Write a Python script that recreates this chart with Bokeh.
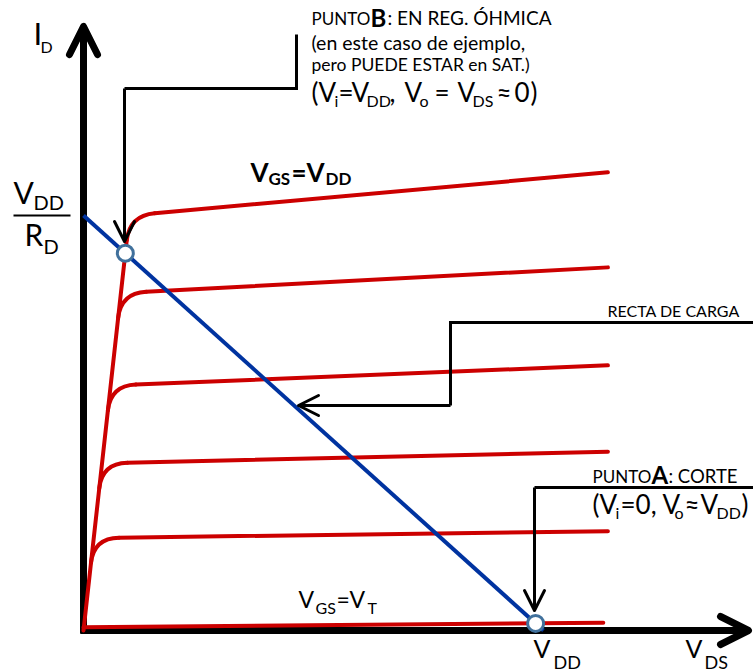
from bokeh.plotting import figure
from bokeh.models import Range1d, Label, Arrow, OpenHead
from bokeh.embed import file_html
from bokeh.resources import INLINE

# ---- normalised MOSFET output characteristics (V_DS in units of V_DD, I_D in units of V_DD/R_D)
g_on = 10.0                                   # slope of the ohmic (triode) region
i_knee = [1.00, 0.813, 0.590, 0.403, 0.223]   # current where each curve leaves the ohmic line
i_end = [1.104, 0.875, 0.639, 0.431, 0.239]   # current at the right end of each curve
v_end = 1.14                                  # V_DS where the curves stop
vt_v = [0.0, 1.13]                            # V_GS = V_T curve (cut-off)
vt_i = [0.008, 0.0185]
vdd = 1.0                                     # load line intercepts
id_max = 1.0                                  # V_DD / R_D

RED = "#CC0000"
BLUE = "#0033A0"
FONT = "Lato"

W, H = 753, 672
X0, XS = 83.0, 460.0   # pixel of V_DS = 0, pixels per V_DD
Y0, YS = 630.0, 415.0  # pixel of I_D = 0, pixels per V_DD/R_D


def X(px):
    return (px - X0) / XS


def Y(py):
    return (Y0 - py) / YS


p = figure(width=W, height=H, x_range=Range1d(X(0), X(W)), y_range=Range1d(Y(H), Y(0)),
           output_backend="svg", toolbar_location=None, min_border=0,
           outline_line_color=None, x_axis_location=None, y_axis_location=None,
           background_fill_color="white", border_fill_color="white")
p.grid.visible = False

# ---- axes drawn as thick arrows
for xs, ys, xe, ye in [(X(83), Y(633), X(83), Y(26)), (X(80), Y(630), X(748), Y(630))]:
    p.add_layout(Arrow(x_start=xs, y_start=ys, x_end=xe, y_end=ye, line_width=7,
                       line_color="black", level="underlay",
                       end=OpenHead(size=28, line_width=7, line_color="black",
                                    line_cap="round", line_join="round")))

# ---- characteristic curves
knee_dI = 0.06    # length of the rounded knee along the ohmic line
knee_dV = 0.055   # length of the rounded knee along the saturation line

top_start_i = i_knee[0] - knee_dI
p.segment(x0=[0.0], y0=[0.0], x1=[top_start_i / g_on], y1=[top_start_i],
          line_color=RED, line_width=4, line_cap="round")

qx0, qy0, qx1, qy1, qcx, qcy = [], [], [], [], [], []
sx0, sy0, sx1, sy1 = [], [], [], []
for ik, ie in zip(i_knee, i_end):
    vc = ik / g_on
    slope = (ie - ik) / (v_end - vc)
    ve = vc + knee_dV
    ie_knee = ik + slope * knee_dV
    qx0.append((ik - knee_dI) / g_on); qy0.append(ik - knee_dI)
    qx1.append(ve); qy1.append(ie_knee)
    qcx.append(vc); qcy.append(ik)
    sx0.append(ve); sy0.append(ie_knee)
    sx1.append(v_end); sy1.append(ie)

p.quadratic(x0=qx0, y0=qy0, x1=qx1, y1=qy1, cx=qcx, cy=qcy,
            line_color=RED, line_width=4, line_cap="round")
p.segment(x0=sx0, y0=sy0, x1=sx1, y1=sy1, line_color=RED, line_width=4, line_cap="round")
p.line(vt_v, vt_i, line_color=RED, line_width=4, line_cap="round")

# ---- load line
p.line([0.0, vdd], [id_max, 0.0], line_color=BLUE, line_width=4)

# operating points: B (ohmic line meets load line), A (cut-off curve meets load line)
vb = id_max / (g_on + id_max / vdd)
ib = g_on * vb
vt_slope = (vt_i[1] - vt_i[0]) / (vt_v[1] - vt_v[0])
va = (id_max - vt_i[0]) / (id_max / vdd + vt_slope)
ia = id_max - id_max / vdd * va
p.scatter([vb, va], [ib, ia], size=16, fill_color="white", line_color="#41719C", line_width=3)

# ---- callout arrows


def callout(path, head=20):
    xs = [X(a) for a, _ in path]
    ys = [Y(b) for _, b in path]
    p.line(xs[:-1], ys[:-1], line_color="black", line_width=3, line_join="miter")
    p.add_layout(Arrow(x_start=xs[-2], y_start=ys[-2], x_end=xs[-1], y_end=ys[-1],
                       line_width=3, line_color="black",
                       end=OpenHead(size=head, line_width=3, line_color="black",
                                    line_cap="round", line_join="round")))


callout([(296, 34), (296, 88), (124, 88), (124, 241)])
callout([(753, 322), (450, 322), (450, 405), (298, 405)])
callout([(753, 487), (534, 487), (534, 610)])


# ---- text (py is the wanted baseline in pixels)
def put(px, py, txt, size, bold=False):
    p.add_layout(Label(x=X(px), y=Y(py - 0.4 * size), text=txt, text_font=FONT,
                       text_font_size=f"{size}px",
                       text_font_style="bold" if bold else "normal",
                       text_align="left", text_baseline="alphabetic",
                       text_color="black"))


# axis titles
put(33, 45, "I", 31); put(40, 52, "D", 16)
put(685, 657, "V", 25); put(704, 669, "DS", 18)
put(533, 657, "V", 25); put(553, 669, "DD", 18)

# V_DD / R_D on the current axis
put(13, 203, "V", 30); put(33, 209, "DD", 20)
p.line([X(13), X(70)], [Y(215), Y(215)], line_color="black", line_width=2)
put(24, 245, "R", 30); put(43, 253, "D", 20)

# curve labels
put(250, 182, "V", 26, True); put(268, 185, "GS", 17, True)
put(291, 182, "=", 26, True); put(306, 182, "V", 26, True); put(325, 185, "DD", 17, True)
put(298, 608, "V", 23); put(315, 613, "GS", 16); put(336, 608, "=", 23)
put(349, 608, "V", 23); put(367, 613, "T", 16)

# point B
put(311, 25, "PUNTO", 17); put(370, 27, "B", 24, True); put(387, 25, ": EN REG. ÓHMICA", 19)
put(311, 50, "(en este caso de ejemplo,", 19.5)
put(311, 71, "pero PUEDE ESTAR en SAT.)", 17.5)
put(311, 102, "(", 26); put(318, 102, "V", 26); put(334, 106, "i", 16)
put(338, 102, "=", 26); put(351, 102, "V", 26); put(366, 106, "DD", 16)
put(389, 102, ",", 26); put(404, 102, "V", 26); put(419, 106, "o", 16)
put(434, 102, "=", 26); put(457, 102, "V", 26); put(472, 106, "DS", 16)
put(496, 102, "≈", 26); put(514, 102, "0", 26); put(530, 102, ")", 26)

# load line
put(607, 316, "RECTA DE CARGA", 16)

# point A
put(592, 483, "PUNTO", 17); put(651, 484, "A", 24, True); put(668, 483, ": CORTE", 18.5)
put(592, 514, "(", 26); put(599, 514, "V", 26); put(615, 518, "i", 16)
put(620, 514, "=0,", 26); put(662, 514, "V", 26); put(674, 518, "o", 16)
put(684, 514, "≈", 26); put(700, 514, "V", 26); put(716, 518, "DD", 16); put(741, 514, ")", 26)

open("out.html", "w").write(file_html(p, INLINE))
